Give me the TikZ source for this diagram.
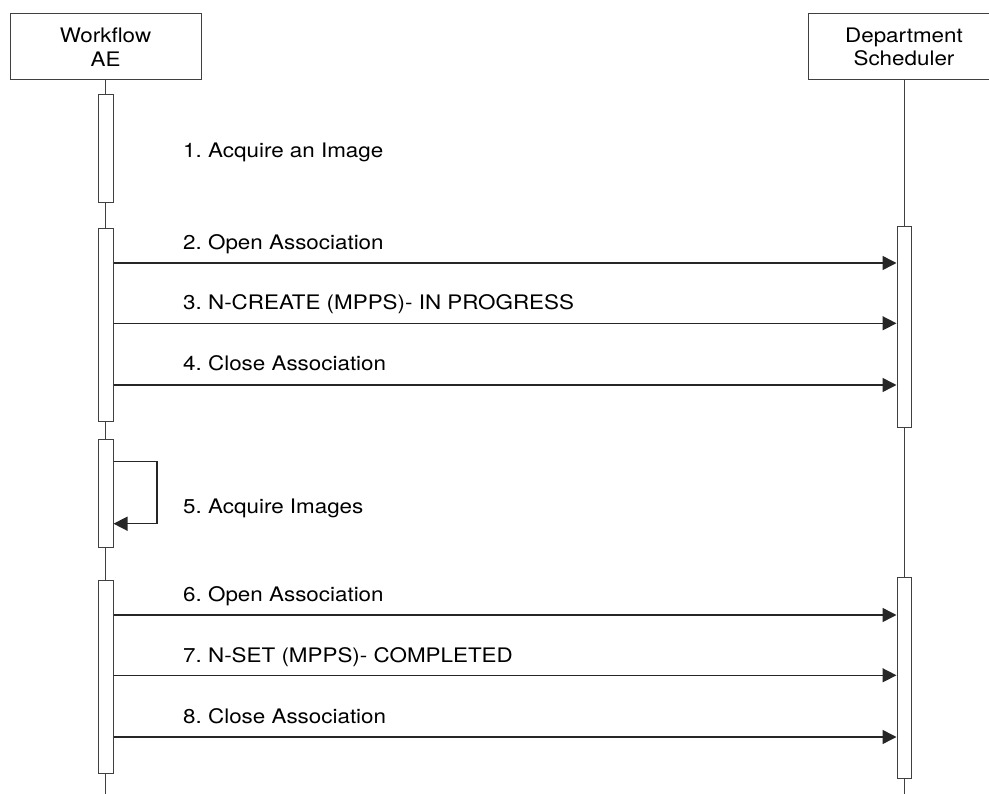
\documentclass[tikz,border=0pt]{standalone}
\usepackage{fontspec}
\setmainfont[FakeStretch=1.12]{TeX Gyre Heros}
\usetikzlibrary{arrows.meta}
\frenchspacing
\begin{document}
\begin{tikzpicture}[x=1pt,y=-1pt,
  actor/.style={draw=black!75,line width=1pt,fill=white,minimum width=191pt,minimum height=66pt,inner sep=0pt,align=center,font=\fontsize{20}{23.4}\selectfont},
  life/.style={draw=black!75,line width=1pt},
  bar/.style={draw=black!75,line width=1pt,fill=white,minimum width=15pt,inner sep=0pt},
  msg/.style={draw=black!85,line width=1.5pt,-{Triangle[length=14pt,width=14pt]}},
  lbl/.style={anchor=base west,inner sep=0pt,font=\fontsize{20}{24}\selectfont\frenchspacing}]
\useasboundingbox (0,0) rectangle (989,794);
\clip (0,0) rectangle (989,794);
\node[actor] (wf) at (105.5,47) {Workflow\\AE};
\node[actor] (ds) at (904,47) {Department\\Scheduler};
\coordinate (wfend) at (105.5,794);
\coordinate (dsend) at (904,794);
\draw[life] (wf.south) -- (wfend);
\draw[life] (ds.south) -- (dsend);
% activation bars, left
\node[bar,minimum height=108pt] (a1) at (105.5,149) {};
\node[bar,minimum height=193pt] (a2) at (105.5,325.5) {};
\node[bar,minimum height=107.5pt] (a3) at (105.5,493.75) {};
\node[bar,minimum height=192.5pt] (a4) at (105.5,676.75) {};
% activation bars, right
\node[bar,minimum width=14pt,minimum height=201pt] (b1) at (904,327.5) {};
\node[bar,minimum width=14pt,minimum height=201pt] (b2) at (904,677.5) {};
% messages
\node[lbl] (l1) at (183,157.3) {1. Acquire an Image};
\draw[msg] (a2.east |- 0,263) -- (b1.west |- 0,263);
\node[lbl] (l2) at (183,249.3) {2. Open Association};
\draw[msg] (a2.east |- 0,323.3) -- (b1.west |- 0,323.3);
\node[lbl] (l3) at (183,309.3) {3. N-CREATE (MPPS)- IN PROGRESS};
\draw[msg] (a2.east |- 0,385) -- (b1.west |- 0,385);
\node[lbl] (l4) at (183,371) {4. Close Association};
% self loop
\coordinate (s1) at (157,461.3);
\coordinate (s2) at (157,523.7);
\draw[msg] (a3.east |- s1) -- (s1) -- (s2) -- (a3.east |- s2);
\node[lbl] (l5) at (183,513.3) {5. Acquire Images};
\draw[msg] (a4.east |- 0,615) -- (b2.west |- 0,615);
\node[lbl] (l6) at (183,601) {6. Open Association};
\draw[msg] (a4.east |- 0,675.3) -- (b2.west |- 0,675.3);
\node[lbl] (l7) at (183,662) {7. N-SET (MPPS)- COMPLETED};
\draw[msg] (a4.east |- 0,737) -- (b2.west |- 0,737);
\node[lbl] (l8) at (183,723) {8. Close Association};
\end{tikzpicture}
\end{document}
